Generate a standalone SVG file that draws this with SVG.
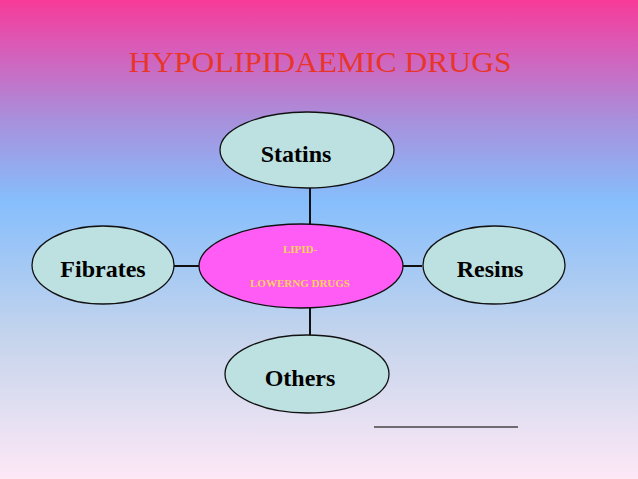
<svg xmlns="http://www.w3.org/2000/svg" width="638" height="479" viewBox="0 0 638 479">
<defs>
<linearGradient id="bg" x1="0" y1="0" x2="0" y2="1">
<stop offset="0" stop-color="#f83a98"/>
<stop offset="0.1" stop-color="#d85cb8"/>
<stop offset="0.25" stop-color="#a890dc"/>
<stop offset="0.42" stop-color="#86befc"/>
<stop offset="0.7" stop-color="#c4d4ec"/>
<stop offset="1" stop-color="#fde8f6"/>
</linearGradient>
<style>
.n{fill:#bde0e0;stroke:#111;stroke-width:1.3}
.t{font-family:"Liberation Serif",serif;font-weight:bold;font-size:24px;fill:#000;text-anchor:middle}
.c{font-family:"Liberation Serif",serif;font-weight:bold;font-size:11px;fill:#ffd060;text-anchor:middle}
.l{stroke:#111;stroke-width:2}
</style>
</defs>
<rect width="638" height="479" fill="url(#bg)"/>
<text x="320" y="72" font-family="Liberation Serif,serif" font-size="29" fill="#e8352a" text-anchor="middle" textLength="383" lengthAdjust="spacingAndGlyphs">HYPOLIPIDAEMIC DRUGS</text>
<g id="connectors">
<line class="l" x1="310" y1="188" x2="310" y2="224"/>
<line class="l" x1="310" y1="308" x2="310" y2="335"/>
<line class="l" x1="174" y1="266" x2="199" y2="266"/>
<line class="l" x1="403" y1="266" x2="422" y2="266"/>
<line x1="374" y1="427" x2="518" y2="427" stroke="#444" stroke-width="1.5"/>
</g>
<g id="statins"><ellipse class="n" cx="307" cy="150" rx="87" ry="38"/><text class="t" x="296" y="162">Statins</text></g>
<g id="fibrates"><ellipse class="n" cx="103" cy="265" rx="71" ry="39"/><text class="t" x="103" y="277">Fibrates</text></g>
<g id="resins"><ellipse class="n" cx="494" cy="265" rx="71" ry="39"/><text class="t" x="490" y="277">Resins</text></g>
<g id="others"><ellipse class="n" cx="307" cy="374" rx="82" ry="39"/><text class="t" x="300" y="386">Others</text></g>
<g id="center"><ellipse cx="301" cy="266" rx="102" ry="42" fill="#ff5cf5" stroke="#111" stroke-width="1.3"/>
<text class="c" x="300" y="253">LIPID-</text>
<text class="c" x="300" y="287">LOWERNG DRUGS</text></g>
</svg>
